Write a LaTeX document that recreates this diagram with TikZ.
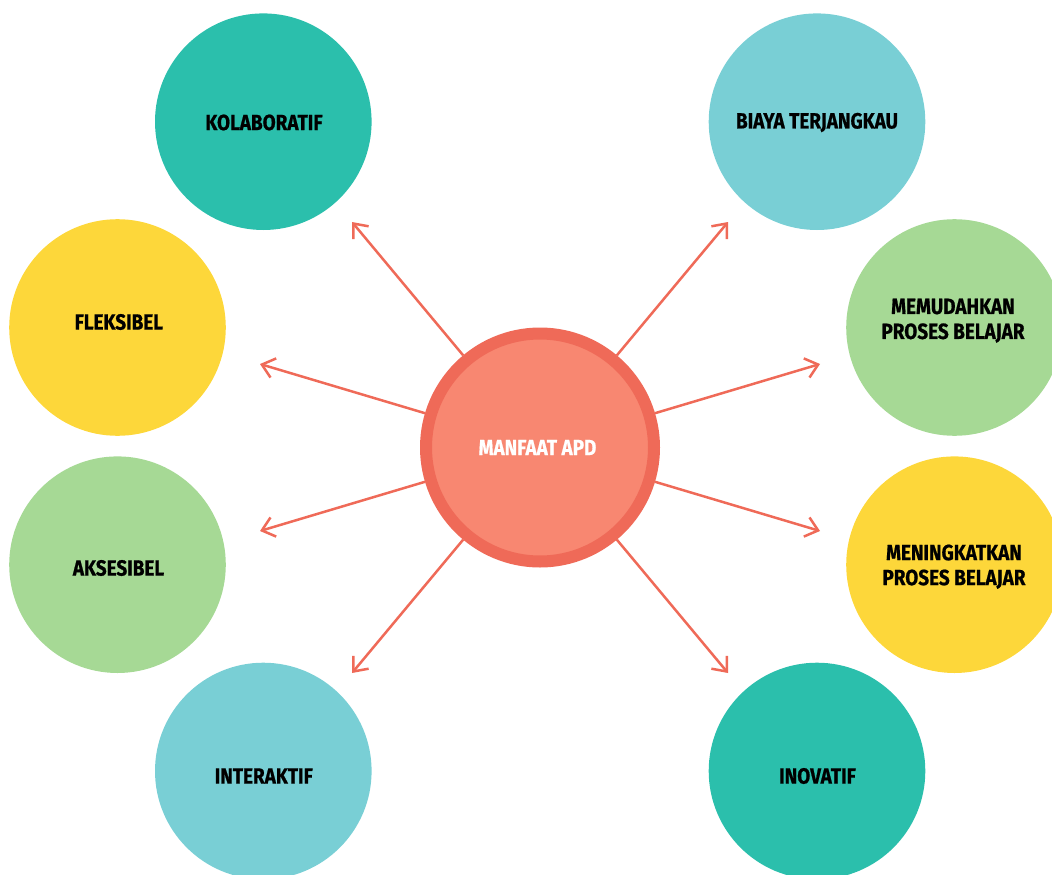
\documentclass[tikz,border=0pt]{standalone}
\usepackage{fontspec}
\usetikzlibrary{arrows.meta}
\newfontfamily\labelfont[FakeStretch=0.86, BoldFeatures={FakeBold=0.7}]{Fira Sans}

\definecolor{teal}{HTML}{2BBFAC}
\definecolor{sky}{HTML}{79CFD5}
\definecolor{sun}{HTML}{FDD73A}
\definecolor{leaf}{HTML}{A6D995}
\definecolor{core}{HTML}{F88771}
\definecolor{ring}{HTML}{EF6A58}

\tikzset{
  bubble/.style={circle, inner sep=0pt, minimum size=216.6pt},
  caption/.style={text=black, align=center,
    font=\labelfont\bfseries\fontsize{22}{25}\selectfont},
  spoke/.style={draw=ring, line width=2.5pt,
    -{Straight Barb[length=12pt,width=20pt,line width=2.5pt]}}
}

\begin{document}
\begin{tikzpicture}[x=1pt,y=-1pt]
  \useasboundingbox (0,0) rectangle (1052,875);

  % satellite circles
  \node[bubble, fill=teal] (kol) at (263.3,121.7) {};
  \node[bubble, fill=sun]  (fle) at (117.5,327.5) {};
  \node[bubble, fill=leaf] (aks) at (117.5,564.7) {};
  \node[bubble, fill=sky]  (int) at (263.3,771.0) {};
  \node[bubble, fill=sky]  (bia) at (817.0,121.7) {};
  \node[bubble, fill=leaf] (mem) at (954.5,327.5) {};
  \node[bubble, fill=sun]  (men) at (954.5,564.7) {};
  \node[bubble, fill=teal] (ino) at (817.0,771.0) {};

  % captions
  \node[caption] (tkol) at (264.0,122.5) {KOLABORATIF};
  \node[caption] (tfle) at (118.8,322.0) {FLEKSIBEL};
  \node[caption] (taks) at (118.5,568.0) {AKSESIBEL};
  \node[caption] (tint) at (263.8,776.0) {INTERAKTIF};
  \node[caption] (tbia) at (817.0,122.5) {BIAYA TERJANGKAU};
  \node[caption] (tmem) at (953.0,320.7) {MEMUDAHKAN\\PROSES BELAJAR};
  \node[caption] (tmen) at (954.0,566.7) {MENINGKATKAN\\PROSES BELAJAR};
  \node[caption] (tino) at (817.5,776.0) {INOVATIF};

  % central hub with its darker rim
  \node[circle, inner sep=0pt, minimum size=228pt, fill=core,
        draw=ring, line width=12pt] (hub) at (540,447.5) {};
  \node[caption, text=white] (thub) at (537.5,447.5) {MANFAAT APD};

  % arrow tips
  \coordinate (pNW) at (352,222);
  \coordinate (pWa) at (260,364);
  \coordinate (pWb) at (260,531);
  \coordinate (pSW) at (352,673);
  \coordinate (pNE) at (728,222);
  \coordinate (pEa) at (820,364);
  \coordinate (pEb) at (820,531);
  \coordinate (pSE) at (728,673);

  % spokes
  \foreach \t in {pNW,pWa,pWb,pSW,pNE,pEa,pEb,pSE}
    \draw[spoke] (hub) -- (\t);
\end{tikzpicture}
\end{document}
